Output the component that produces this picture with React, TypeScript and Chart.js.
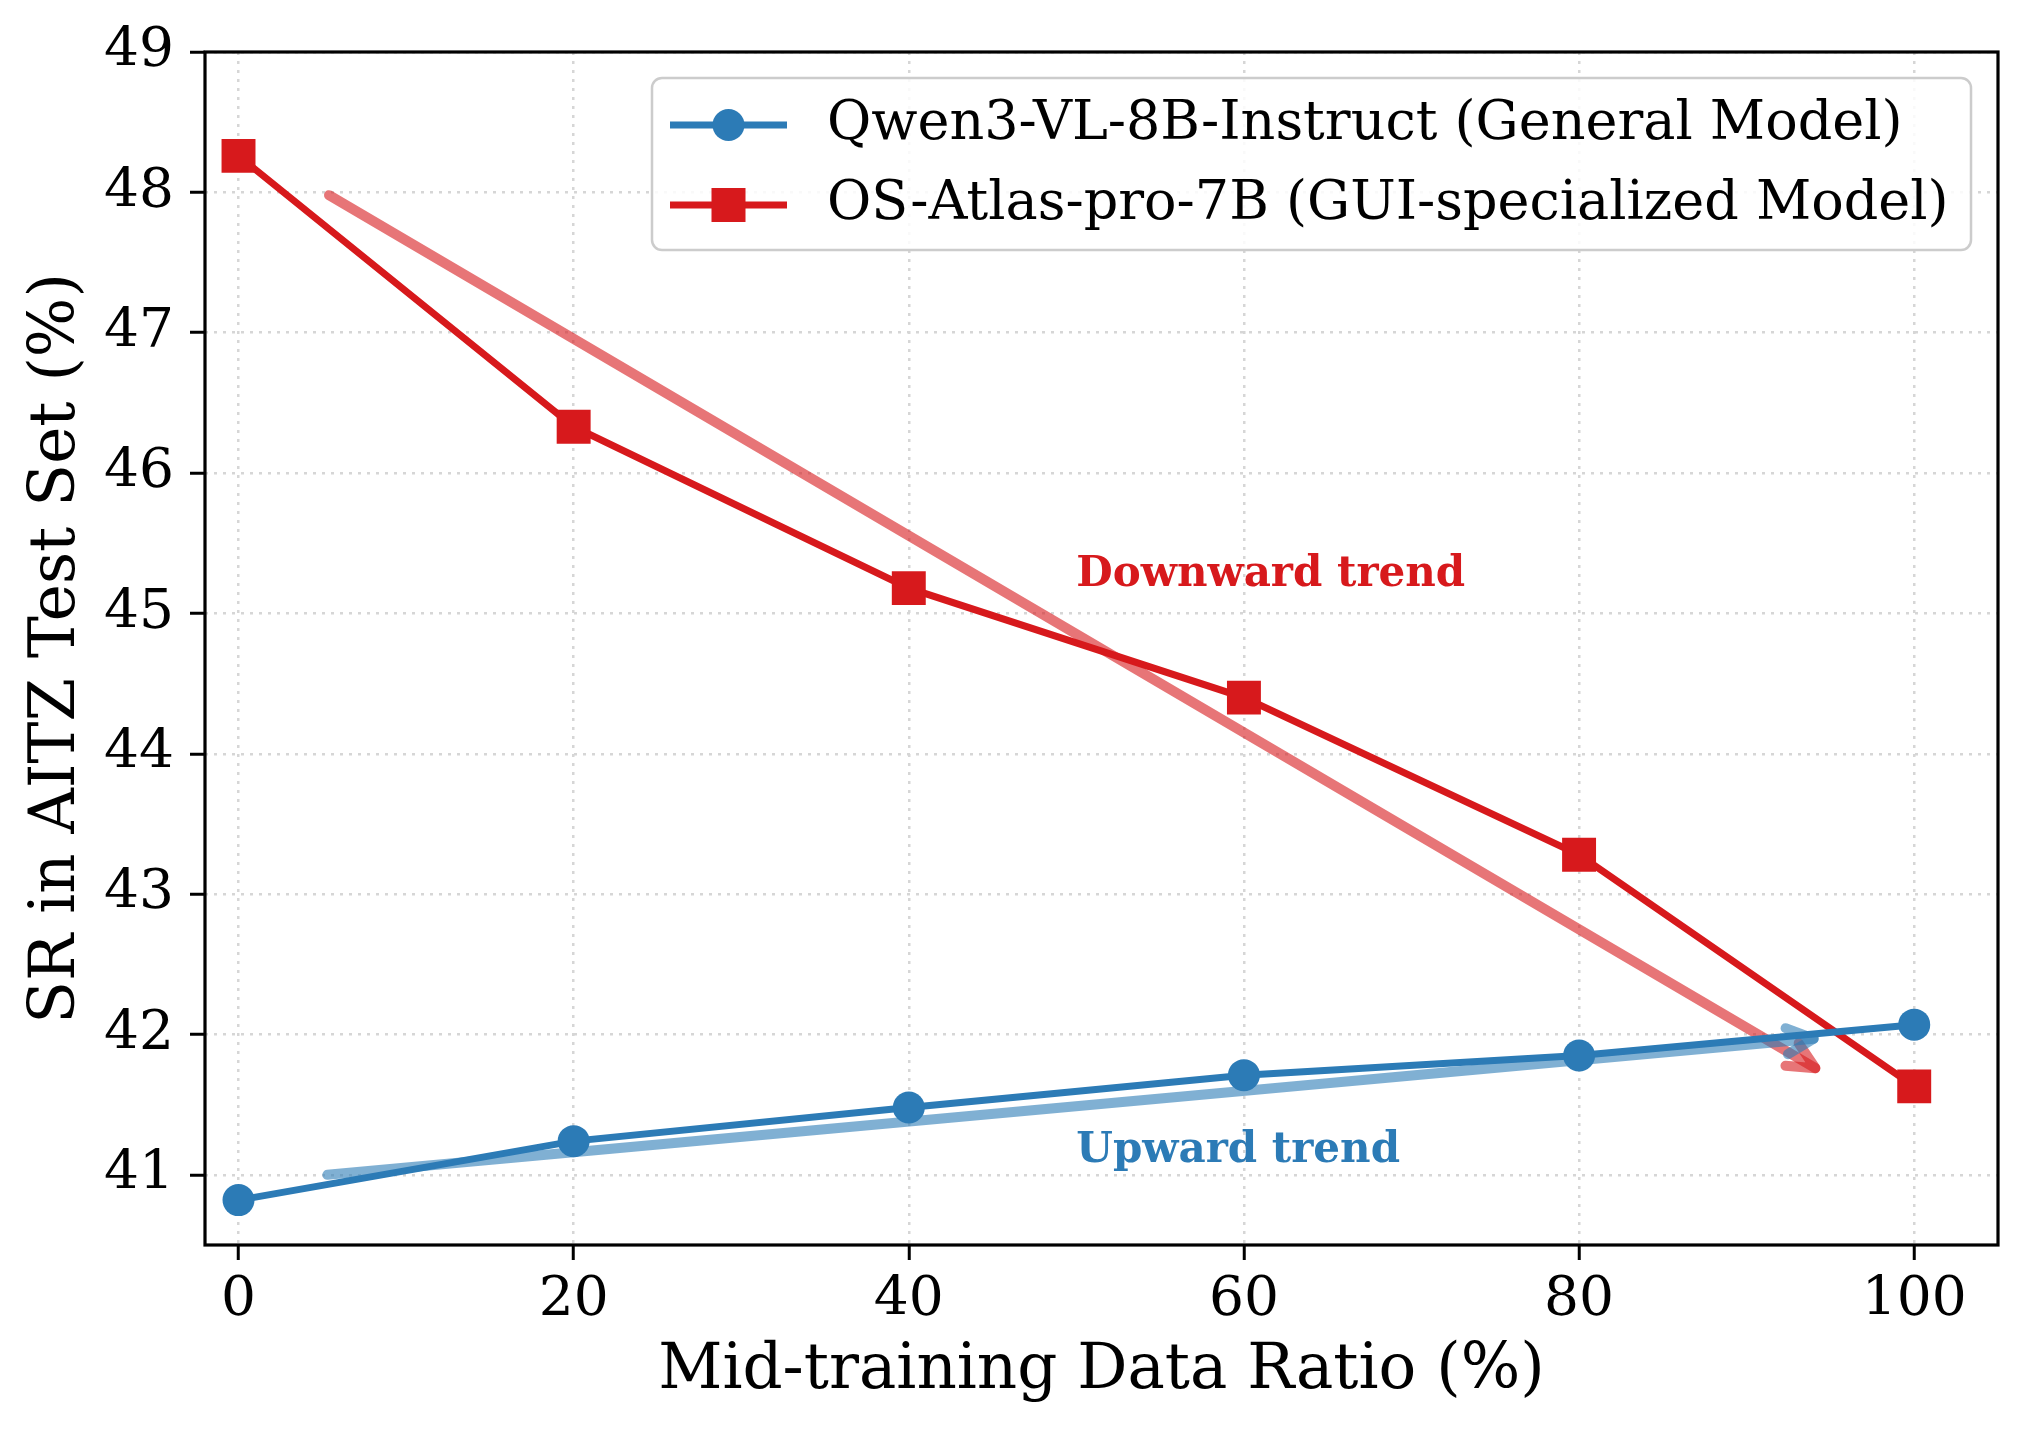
import React, { useEffect, useRef } from "react";
import { Chart, registerables } from "chart.js";

Chart.register(...registerables);

// ---- data ----
const ratioValues = [0, 20, 40, 60, 80, 100];
const qwenSR = [40.82, 41.24, 41.48, 41.71, 41.85, 42.07];
const atlasSR = [48.26, 46.33, 45.18, 44.4, 43.28, 41.63];
const xTickValues = [0, 20, 40, 60, 80, 100];
const yTickValues = [41, 42, 43, 44, 45, 46, 47, 48, 49];
const qwenLabel = "Qwen3-VL-8B-Instruct (General Model)";
const atlasLabel = "OS-Atlas-pro-7B (GUI-specialized Model)";
const xTitle = "Mid-training Data Ratio (%)";
const yTitle = "SR in AITZ Test Set (%)";
// trend arrows: [startX, startY, endX, endY]
const downTrendArrow = [5.4, 47.98, 94.1, 41.76];
const upTrendArrow = [5.3, 41.0, 94.0, 41.97];
const downTrendText = { text: "Downward trend", x: 50, y: 45.27 };
const upTrendText = { text: "Upward trend", x: 50, y: 41.17 };

const BLUE = "#2c7bb6";
const RED = "#d7191c";
const BLUE_A = "rgba(44,123,182,0.6)";
const RED_A = "rgba(215,25,28,0.6)";
const FONT = "'DejaVu Serif', serif";

const W = 2032;
const H = 1435;
const AREA = { left: 205, right: 1998, top: 52, bottom: 1245 };

function drawArrow(ctx: CanvasRenderingContext2D, chart: any, a: number[], color: string) {
  const xs = chart.scales.x;
  const ys = chart.scales.y;
  const x1 = xs.getPixelForValue(a[0]);
  const y1 = ys.getPixelForValue(a[1]);
  const x2 = xs.getPixelForValue(a[2]);
  const y2 = ys.getPixelForValue(a[3]);
  const ang = Math.atan2(y2 - y1, x2 - x1);
  const hl = 30;
  const spread = 0.45;
  ctx.save();
  ctx.strokeStyle = color;
  ctx.lineWidth = 10;
  ctx.lineCap = "round";
  ctx.lineJoin = "round";
  ctx.beginPath();
  ctx.moveTo(x1, y1);
  ctx.lineTo(x2, y2);
  ctx.stroke();
  ctx.beginPath();
  ctx.moveTo(x2 - hl * Math.cos(ang - spread), y2 - hl * Math.sin(ang - spread));
  ctx.lineTo(x2, y2);
  ctx.lineTo(x2 - hl * Math.cos(ang + spread), y2 - hl * Math.sin(ang + spread));
  ctx.stroke();
  ctx.restore();
}

const overlayPlugin = {
  id: "overlay",
  beforeDatasetsDraw(chart: any) {
    const ctx = chart.ctx;
    drawArrow(ctx, chart, downTrendArrow, RED_A);
    drawArrow(ctx, chart, upTrendArrow, BLUE_A);
  },
  afterDraw(chart: any) {
    const ctx: CanvasRenderingContext2D = chart.ctx;
    const ca = chart.chartArea;
    const xs = chart.scales.x;
    const ys = chart.scales.y;
    ctx.save();
    // annotations
    ctx.font = `bold 42px ${FONT}`;
    ctx.textAlign = "left";
    ctx.textBaseline = "middle";
    ctx.fillStyle = RED;
    ctx.fillText(downTrendText.text, xs.getPixelForValue(downTrendText.x), ys.getPixelForValue(downTrendText.y));
    ctx.fillStyle = BLUE;
    ctx.fillText(upTrendText.text, xs.getPixelForValue(upTrendText.x), ys.getPixelForValue(upTrendText.y));

    // spines
    ctx.strokeStyle = "#000";
    ctx.lineWidth = 3.2;
    ctx.strokeRect(ca.left, ca.top, ca.right - ca.left, ca.bottom - ca.top);

    // axis titles
    ctx.fillStyle = "#000";
    ctx.font = `62.7px ${FONT}`;
    ctx.textAlign = "center";
    ctx.textBaseline = "middle";
    ctx.fillText(xTitle, (ca.left + ca.right) / 2, 1372);
    ctx.save();
    ctx.translate(58, (ca.top + ca.bottom) / 2);
    ctx.rotate(-Math.PI / 2);
    ctx.fillText(yTitle, 0, 0);
    ctx.restore();

    // legend
    const lx = 652, ly = 78, lw = 1319, lh = 172;
    ctx.beginPath();
    ctx.roundRect(lx, ly, lw, lh, 10);
    ctx.fillStyle = "rgba(255,255,255,0.85)";
    ctx.fill();
    ctx.strokeStyle = "#cccccc";
    ctx.lineWidth = 2.5;
    ctx.stroke();
    const rows = [
      { label: qwenLabel, color: BLUE, style: "circle", y: 125 },
      { label: atlasLabel, color: RED, style: "rect", y: 205 },
    ];
    for (const r of rows) {
      ctx.strokeStyle = r.color;
      ctx.lineWidth = 7;
      ctx.lineCap = "butt";
      ctx.beginPath();
      ctx.moveTo(670, r.y);
      ctx.lineTo(787, r.y);
      ctx.stroke();
      ctx.fillStyle = r.color;
      ctx.beginPath();
      if (r.style === "circle") ctx.arc(728.5, r.y, 16, 0, Math.PI * 2);
      else ctx.rect(728.5 - 17, r.y - 17, 34, 34);
      ctx.fill();
      ctx.fillStyle = "#000";
      ctx.font = `54px ${FONT}`;
      ctx.textAlign = "left";
      ctx.textBaseline = "middle";
      ctx.fillText(r.label, 827, r.y);
    }
    ctx.restore();
  },
};

export default function App() {
  const ref = useRef<HTMLCanvasElement | null>(null);
  useEffect(() => {
    document.body.style.margin = "0";
    const canvas = ref.current!;
    const gridCommon = {
      color: "#d6d6d6",
      lineWidth: 2.5,
      drawTicks: true,
      tickLength: 15,
      tickColor: "#000",
      tickWidth: 3,
      tickBorderDash: [],
    };
    const borderCommon = { display: false, dash: [3, 6] };
    const chart = new Chart(canvas, {
      type: "line",
      data: {
        datasets: [
          {
            label: qwenLabel,
            data: ratioValues.map((x, i) => ({ x, y: qwenSR[i] })),
            borderColor: BLUE,
            backgroundColor: BLUE,
            borderWidth: 7,
            pointStyle: "circle",
            pointRadius: 16,
            pointBorderWidth: 0,
            pointBackgroundColor: BLUE,
            tension: 0,
          },
          {
            label: atlasLabel,
            data: ratioValues.map((x, i) => ({ x, y: atlasSR[i] })),
            borderColor: RED,
            backgroundColor: RED,
            borderWidth: 7,
            pointStyle: "rect",
            pointRadius: 24,
            pointBorderWidth: 0,
            pointBackgroundColor: RED,
            tension: 0,
          },
        ],
      },
      options: {
        animation: false,
        responsive: false,
        devicePixelRatio: 1,
        layout: { padding: { top: AREA.top, right: W - AREA.right, left: 0, bottom: 0 } },
        plugins: { legend: { display: false }, tooltip: { enabled: false } },
        scales: {
          x: {
            type: "linear",
            min: -2,
            max: 105,
            afterBuildTicks: (s: any) => {
              s.ticks = xTickValues.map((v) => ({ value: v }));
            },
            afterFit: (s: any) => {
              s.height = H - AREA.bottom;
            },
            grid: gridCommon,
            border: borderCommon,
            ticks: {
              color: "#000",
              font: { family: FONT, size: 55 },
              padding: 8,
              maxRotation: 0,
              autoSkip: false,
            },
          },
          y: {
            type: "linear",
            min: 40.5,
            max: 49,
            afterBuildTicks: (s: any) => {
              s.ticks = yTickValues.map((v) => ({ value: v }));
            },
            afterFit: (s: any) => {
              s.width = AREA.left;
            },
            grid: gridCommon,
            border: borderCommon,
            ticks: {
              color: "#000",
              font: { family: FONT, size: 55 },
              padding: 16,
              autoSkip: false,
            },
          },
        },
      },
      plugins: [overlayPlugin],
    } as any);
    return () => chart.destroy();
  }, []);
  return (
    <div style={{ width: W, height: H }}>
      <canvas ref={ref} width={W} height={H} style={{ display: "block", width: W, height: H }} />
    </div>
  );
}
